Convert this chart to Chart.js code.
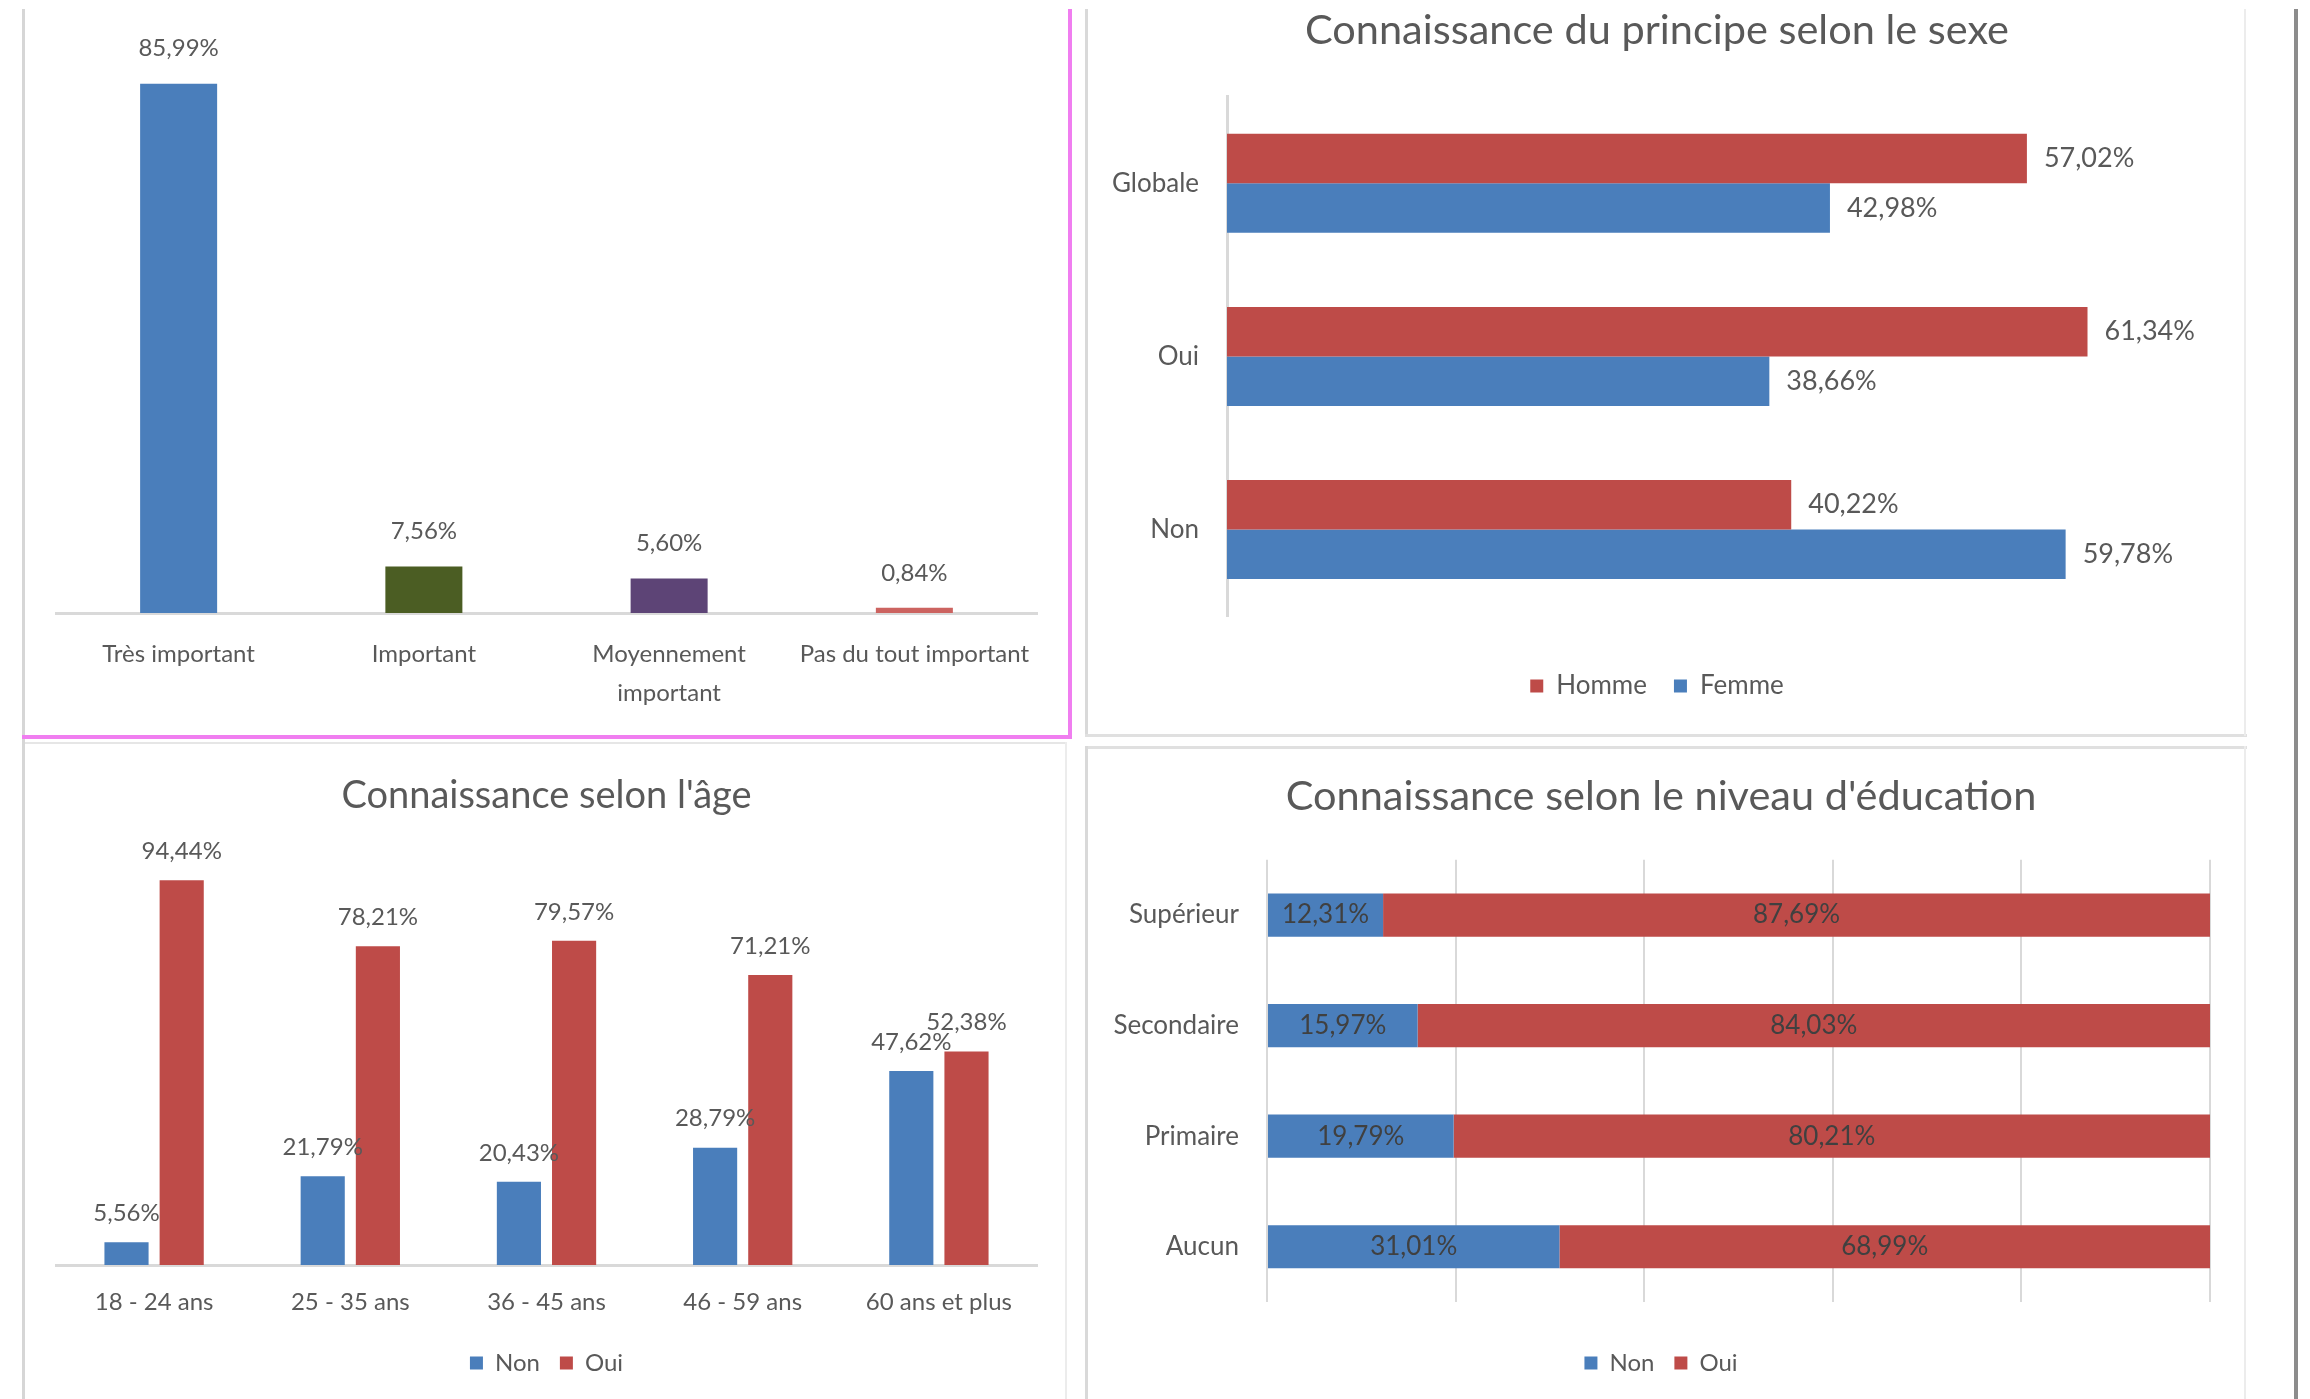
<!DOCTYPE html>
<html lang="fr">
<head>
<meta charset="utf-8">
<title>Connaissance du principe</title>
<script src="https://cdn.jsdelivr.net/npm/chart.js@4.4.1/dist/chart.umd.min.js"></script>
<style>
  html, body { margin: 0; padding: 0; background: #fff; overflow: hidden; }
  body { width: 2310px; height: 1399px; position: relative; font-family: Lato, sans-serif; }
  canvas { position: absolute; }
  .rule { position: absolute; }
</style>
</head>
<body>

<!-- panel frames -->
<div class="rule" style="left:22px;top:9px;width:3px;height:1390px;background:#d6d6d6"></div>
<div class="rule" style="left:1068px;top:9px;width:4px;height:730px;background:#f07ef0"></div>
<div class="rule" style="left:22px;top:735px;width:1050px;height:4px;background:#f07ef0"></div>
<div class="rule" style="left:25px;top:742px;width:1042px;height:2px;background:#e6e6e6"></div>
<div class="rule" style="left:1065px;top:742px;width:2px;height:657px;background:#ececec"></div>
<div class="rule" style="left:1085px;top:9px;width:3px;height:727px;background:#d9d9d9"></div>
<div class="rule" style="left:1085px;top:734px;width:1162px;height:3px;background:#e0e0e0"></div>
<div class="rule" style="left:2244px;top:9px;width:2px;height:727px;background:#ececec"></div>
<div class="rule" style="left:1085px;top:746px;width:1162px;height:3px;background:#e0e0e0"></div>
<div class="rule" style="left:1085px;top:746px;width:3px;height:653px;background:#d9d9d9"></div>
<div class="rule" style="left:2244px;top:746px;width:2px;height:653px;background:#ececec"></div>
<div class="rule" style="left:2294px;top:9px;width:4px;height:1390px;background:#8c8c8c"></div>

<canvas id="importance" width="1040" height="734" style="left:27px;top:0"></canvas>
<canvas id="sexe" width="1152" height="740" style="left:1090px;top:0"></canvas>
<canvas id="age" width="1036" height="680" style="left:27px;top:740px"></canvas>
<canvas id="education" width="1152" height="680" style="left:1090px;top:740px"></canvas>

<script>
// importance accordée au principe
const importanceLabels = ['Très important', 'Important', ['Moyennement', 'important'], 'Pas du tout important'];
const importanceValues = [85.99, 7.56, 5.60, 0.84];

// connaissance selon le sexe
const sexeCategories = ['Globale', 'Oui', 'Non'];
const hommeValues = [57.02, 61.34, 40.22];
const femmeValues = [42.98, 38.66, 59.78];

// connaissance selon l'âge
const ageCategories = ['18 - 24 ans', '25 - 35 ans', '36 - 45 ans', '46 - 59 ans', '60 ans et plus'];
const ageNon = [5.56, 21.79, 20.43, 28.79, 47.62];
const ageOui = [94.44, 78.21, 79.57, 71.21, 52.38];

// connaissance selon le niveau d'éducation
const eduCategories = ['Supérieur', 'Secondaire', 'Primaire', 'Aucun'];
const eduNon = [12.31, 15.97, 19.79, 31.01];
const eduOui = [87.69, 84.03, 80.21, 68.99];

const BLUE = '#4A7EBB';
const RED = '#BE4B48';
const GREEN = '#4B5D23';
const PURPLE = '#5D4476';
const TEXT = '#595959';
const AXIS = '#d9d9d9';

Chart.defaults.font.family = 'Lato, sans-serif';
Chart.defaults.color = TEXT;

const pct = v => v.toFixed(2).replace('.', ',') + '%';

// writes each bar's value next to it
const valueLabels = {
  id: 'valueLabels',
  afterDatasetsDraw(chart, args, opts) {
    const ctx = chart.ctx;
    ctx.save();
    ctx.font = opts.size + 'px Lato';
    ctx.fillStyle = opts.color || TEXT;
    ctx.textBaseline = 'middle';
    chart.data.datasets.forEach((ds, i) => {
      chart.getDatasetMeta(i).data.forEach((bar, j) => {
        const text = pct(ds.data[j]);
        if (opts.mode === 'above') {
          ctx.textAlign = 'center';
          ctx.fillText(text, bar.x, bar.y - opts.offset);
        } else if (opts.mode === 'end') {
          ctx.textAlign = 'left';
          ctx.fillText(text, bar.x + opts.offset, bar.y);
        } else {
          const c = bar.getCenterPoint();
          ctx.textAlign = 'center';
          ctx.fillText(text, c.x, c.y);
        }
      });
    });
    ctx.restore();
  }
};

const titleFont = size => ({ size, weight: 'normal', lineHeight: 1.2 });

function drawCharts() {
  new Chart(document.getElementById('importance'), {
    type: 'bar',
    data: {
      labels: importanceLabels,
      datasets: [{
        data: importanceValues,
        backgroundColor: [BLUE, GREEN, PURPLE, '#CC6360'],
        categoryPercentage: 1,
        barPercentage: 0.314
      }]
    },
    options: {
      responsive: false,
      animation: false,
      layout: { padding: { left: 29, right: 30, top: 59, bottom: 0 } },
      plugins: {
        legend: { display: false },
        tooltip: { enabled: false },
        valueLabels: { mode: 'above', offset: 35, size: 24 }
      },
      scales: {
        x: {
          grid: { display: false, drawTicks: false },
          border: { color: AXIS, width: 3 },
          ticks: { color: TEXT, font: { size: 24, lineHeight: 1.65 }, padding: 21, maxRotation: 0, minRotation: 0, autoSkip: false },
          afterFit: s => { s.height = 121; }
        },
        y: { display: false, min: 0, max: 90 }
      }
    },
    plugins: [valueLabels]
  });

  new Chart(document.getElementById('sexe'), {
    type: 'bar',
    data: {
      labels: sexeCategories,
      datasets: [
        { label: 'Homme', data: hommeValues, backgroundColor: RED },
        { label: 'Femme', data: femmeValues, backgroundColor: BLUE }
      ]
    },
    options: {
      indexAxis: 'y',
      responsive: false,
      animation: false,
      datasets: { bar: { categoryPercentage: 0.572, barPercentage: 1 } },
      layout: { padding: { left: 15, right: 33, top: 0, bottom: 31 } },
      plugins: {
        title: { display: true, text: 'Connaissance du principe selon le sexe', color: TEXT, font: titleFont(41.5), padding: { top: 6, bottom: 41 } },
        legend: { position: 'bottom', labels: { boxWidth: 13, boxHeight: 13, padding: 27, color: TEXT, font: { size: 26 } } },
        tooltip: { enabled: false },
        valueLabels: { mode: 'end', offset: 17, size: 27 }
      },
      scales: {
        x: {
          min: 0, max: 70,
          grid: { display: false },
          border: { display: false },
          ticks: { display: false },
          afterFit: s => { s.height = 30; }
        },
        y: {
          grid: { display: false, drawTicks: false },
          border: { color: AXIS, width: 3 },
          ticks: { color: TEXT, font: { size: 26 }, padding: 28 },
          afterFit: s => { s.width = 122; }
        }
      }
    },
    plugins: [valueLabels]
  });

  new Chart(document.getElementById('age'), {
    type: 'bar',
    data: {
      labels: ageCategories,
      datasets: [
        { label: 'Non', data: ageNon, backgroundColor: BLUE },
        { label: 'Oui', data: ageOui, backgroundColor: RED }
      ]
    },
    options: {
      responsive: false,
      animation: false,
      datasets: { bar: { categoryPercentage: 0.5625, barPercentage: 0.8 } },
      layout: { padding: { left: 29, right: 26, top: 0, bottom: 35 } },
      plugins: {
        title: { display: true, text: "Connaissance selon l'âge", color: TEXT, font: titleFont(38), padding: { top: 33, bottom: 39 } },
        legend: { position: 'bottom', labels: { boxWidth: 13, boxHeight: 13, padding: 20, color: TEXT, font: { size: 24 } } },
        tooltip: { enabled: false },
        valueLabels: { mode: 'above', offset: 29, size: 24 }
      },
      scales: {
        x: {
          grid: { display: false, drawTicks: false },
          border: { color: AXIS, width: 3 },
          ticks: { color: TEXT, font: { size: 24, lineHeight: 1.2 }, padding: 22.6, maxRotation: 0, minRotation: 0, autoSkip: false },
          afterFit: s => { s.height = 66; }
        },
        y: { display: false, min: 0, max: 100 }
      }
    },
    plugins: [valueLabels]
  });

  new Chart(document.getElementById('education'), {
    type: 'bar',
    data: {
      labels: eduCategories,
      datasets: [
        { label: 'Non', data: eduNon, backgroundColor: BLUE },
        { label: 'Oui', data: eduOui, backgroundColor: RED }
      ]
    },
    options: {
      indexAxis: 'y',
      responsive: false,
      animation: false,
      datasets: { bar: { categoryPercentage: 1, barPercentage: 0.39 } },
      layout: { padding: { left: 22, right: 32, top: 0, bottom: 35 } },
      plugins: {
        title: { display: true, text: "Connaissance selon le niveau d'éducation", color: TEXT, font: titleFont(41.5), padding: { top: 32, bottom: 38 } },
        legend: { position: 'bottom', labels: { boxWidth: 13, boxHeight: 13, padding: 20, color: TEXT, font: { size: 24 } } },
        tooltip: { enabled: false },
        valueLabels: { mode: 'center', size: 26, color: '#404040' }
      },
      scales: {
        x: {
          stacked: true,
          min: 0, max: 100,
          grid: { color: AXIS, lineWidth: 2, drawTicks: false },
          border: { display: false },
          ticks: { display: false, stepSize: 20 },
          afterFit: s => { s.height = 29; }
        },
        y: {
          stacked: true,
          grid: { display: false, drawTicks: false },
          border: { display: false },
          ticks: { color: TEXT, font: { size: 26 }, padding: 28 },
          afterFit: s => { s.width = 155; }
        }
      }
    },
    plugins: [valueLabels]
  });
}

document.fonts.load('24px Lato').then(drawCharts, drawCharts);
</script>
</body>
</html>
